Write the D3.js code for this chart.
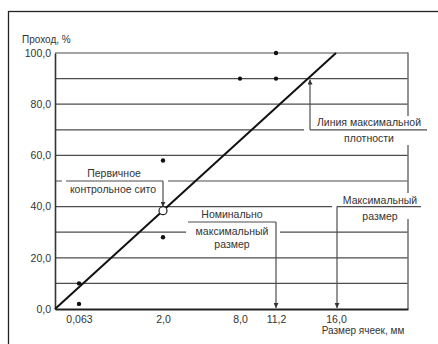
<!DOCTYPE html>
<html>
<head>
<meta charset="utf-8">
<script src="https://cdn.jsdelivr.net/npm/d3@7"></script>
<style>
  html, body { margin: 0; padding: 0; background: #fff; }
  svg text { font-family: "Liberation Sans", Arial, sans-serif; fill: #333; }
</style>
</head>
<body>
<figure id="chart" style="margin:0"></figure>
<script>
// sieve sizes on the x axis (mm) and their labels
const sieveTicks = [0.063, 2.0, 8.0, 11.2, 16.0];
const sieveLabels = ["0,063", "2,0", "8,0", "11,2", "16,0"];
// y axis
const yTicks = [0, 20, 40, 60, 80, 100];
const gridValues = [10, 20, 30, 40, 50, 60, 70, 80, 90, 100];
// sample points
const sampleSizes = [0.063, 0.063, 2.0, 2.0, 8.0, 11.2, 11.2];
const samplePassing = [2, 10, 58, 28, 90, 90, 100];
// maximum density line
const densitySizes = [0, 16.0];
const densityPassing = [0, 100];
// primary control sieve point
const controlSize = 2.0;
const controlPassing = 38.4;
const nominalMaxSize = 11.2;
const maxSize = 16.0;

const width = 438, height = 344;

const svg = d3.select("#chart").append("svg")
  .attr("width", width)
  .attr("height", height);

// outer frame
svg.append("rect")
  .attr("x", 8.5).attr("y", 11.5)
  .attr("width", 440).attr("height", 340)
  .attr("fill", "none")
  .attr("stroke", "#222")
  .attr("stroke-width", 1.3);

// x axis is a schematic (non-uniform) sieve scale
const x = d3.scaleLinear()
  .domain([0, 0.063, 2.0, 8.0, 11.2, 16.0, 19.0])
  .range([55, 79, 163, 240, 276, 336, 408]);

const y = d3.scaleLinear()
  .domain([0, 100])
  .range([309, 53]);

const gridColor = "#4d4d4d";

// arrow marker
svg.append("defs").append("marker")
  .attr("id", "arrow")
  .attr("viewBox", "0 0 10 10")
  .attr("refX", 10).attr("refY", 5)
  .attr("markerWidth", 5).attr("markerHeight", 5)
  .attr("markerUnits", "userSpaceOnUse")
  .attr("orient", "auto")
  .append("path")
  .attr("d", "M0,0 L10,5 L0,10 z")
  .attr("fill", "#333");

// horizontal grid
svg.append("g").selectAll("line")
  .data(gridValues)
  .enter()
  .append("line")
  .attr("x1", x(0)).attr("x2", x(19.0))
  .attr("y1", d => y(d)).attr("y2", d => y(d))
  .attr("stroke", gridColor)
  .attr("stroke-width", 1.2);

// right border of the plot
svg.append("line")
  .attr("x1", x(19.0)).attr("x2", x(19.0))
  .attr("y1", y(100) - 0.5).attr("y2", y(0))
  .attr("stroke", "#777")
  .attr("stroke-width", 1.6);

// y axis
const yAxis = svg.append("g")
  .attr("transform", "translate(" + x(0) + ",0)")
  .call(d3.axisLeft(y).tickValues(yTicks).tickSize(0).tickPadding(4)
    .tickFormat(d => d3.format(".1f")(d).replace(".", ",")));
yAxis.select(".domain").attr("stroke", "#333").attr("stroke-width", 1.6);
yAxis.selectAll("text").style("font-size", "10.5px").attr("fill", "#333");

// x axis
const xAxis = svg.append("g")
  .attr("transform", "translate(0," + y(0) + ")")
  .call(d3.axisBottom(x).tickValues(sieveTicks).tickSize(0).tickPadding(7)
    .tickFormat((d, i) => sieveLabels[i]));
xAxis.select(".domain").attr("stroke", "#222").attr("stroke-width", 2.2);
xAxis.selectAll("text").style("font-size", "10.5px").attr("fill", "#333");

// axis titles
svg.append("text")
  .attr("x", 22).attr("y", 43)
  .style("font-size", "10px")
  .text("Проход, %");
svg.append("text")
  .attr("x", 363).attr("y", 334)
  .attr("text-anchor", "middle")
  .style("font-size", "10px")
  .text("Размер ячеек, мм");

// white masks behind the callout labels
const masks = [
  [62, 165, 106, 32],
  [186, 209, 94, 40],
  [304, 116, 134, 29],
  [332, 193, 106, 26]
];
svg.append("g").selectAll("rect")
  .data(masks)
  .enter()
  .append("rect")
  .attr("x", d => d[0]).attr("y", d => d[1])
  .attr("width", d => d[2]).attr("height", d => d[3])
  .attr("fill", "#fff");

const callouts = svg.append("g")
  .attr("stroke", gridColor)
  .attr("stroke-width", 1.2)
  .attr("fill", "none");

function label(cx, cy, str) {
  svg.append("text")
    .attr("x", cx).attr("y", cy)
    .attr("text-anchor", "middle")
    .attr("dy", "0.35em")
    .style("font-size", "10.5px")
    .text(str);
}

// primary control sieve
callouts.append("line")
  .attr("x1", 66).attr("x2", x(controlSize))
  .attr("y1", y(50)).attr("y2", y(50));
callouts.append("line")
  .attr("x1", x(controlSize)).attr("x2", x(controlSize))
  .attr("y1", y(50)).attr("y2", y(controlPassing) - 4)
  .attr("marker-end", "url(#arrow)");
label(114, 173, "Первичное");
label(113, 189, "контрольное сито");

// nominal maximum size
callouts.append("line")
  .attr("x1", 188).attr("x2", x(nominalMaxSize))
  .attr("y1", 222).attr("y2", 222);
callouts.append("line")
  .attr("x1", x(nominalMaxSize)).attr("x2", x(nominalMaxSize))
  .attr("y1", 222).attr("y2", y(0) - 1)
  .attr("marker-end", "url(#arrow)");
label(232, 214, "Номинально");
label(232, 231, "максимальный");
label(232, 244, "размер");

// maximum density line callout
callouts.append("line")
  .attr("x1", 310).attr("x2", 427)
  .attr("y1", y(70)).attr("y2", y(70));
callouts.append("line")
  .attr("x1", 310).attr("x2", 310)
  .attr("y1", y(70)).attr("y2", y(90) + 1)
  .attr("marker-end", "url(#arrow)");
label(369, 122, "Линия максимальной");
label(369, 138, "плотности");

// maximum size
callouts.append("line")
  .attr("x1", x(maxSize) + 1).attr("x2", 421)
  .attr("y1", y(40)).attr("y2", y(40));
callouts.append("line")
  .attr("x1", x(maxSize) + 1).attr("x2", x(maxSize) + 1)
  .attr("y1", y(40)).attr("y2", y(0) - 1)
  .attr("marker-end", "url(#arrow)");
label(380, 200, "Максимальный");
label(380, 216, "размер");

// maximum density line
const densityData = densitySizes.map((d, i) => ({ size: d, pass: densityPassing[i] }));
svg.append("path")
  .datum(densityData)
  .attr("d", d3.line().x(d => x(d.size)).y(d => y(d.pass)))
  .attr("stroke", "#111")
  .attr("stroke-width", 2)
  .attr("fill", "none");

// sample points
const sampleData = sampleSizes.map((d, i) => ({ size: d, pass: samplePassing[i] }));
svg.append("g").selectAll("circle")
  .data(sampleData)
  .enter()
  .append("circle")
  .attr("cx", d => x(d.size))
  .attr("cy", d => y(d.pass))
  .attr("r", 2.2)
  .attr("fill", "#111");

// control sieve point
svg.append("circle")
  .attr("cx", x(controlSize))
  .attr("cy", y(controlPassing))
  .attr("r", 4)
  .attr("fill", "#fff")
  .attr("stroke", "#222")
  .attr("stroke-width", 1.2);
</script>
</body>
</html>
